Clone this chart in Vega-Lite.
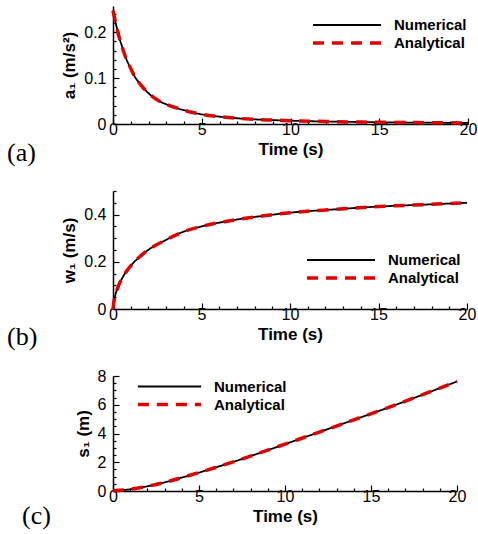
{
  "$schema": "https://vega.github.io/schema/vega-lite/v6.json",
  "background": "white",
  "padding": {"left": 7, "top": 3, "right": 2, "bottom": 2},
  "spacing": 67,
  "bounds": "flush",
  "resolve": {
    "scale": {"color": "independent", "strokeDash": "independent", "strokeWidth": "independent"},
    "legend": {"color": "independent", "strokeDash": "independent", "strokeWidth": "independent"}
  },
  "config": {
    "view": {"stroke": null},
    "font": "Liberation Sans",
    "axis": {
      "grid": false,
      "domainColor": "black",
      "domainWidth": 1.5,
      "tickColor": "black",
      "tickWidth": 1.2,
      "labelFont": "Liberation Sans",
      "labelFontSize": 16,
      "labelColor": "black",
      "labelOverlap": false,
      "labelFlush": false,
      "titleFont": "Liberation Sans",
      "titleFontSize": 17,
      "titleFontWeight": "bold",
      "titleColor": "black"
    },
    "legend": {
      "labelFont": "Liberation Sans",
      "labelFontSize": 15,
      "labelFontWeight": "bold",
      "labelColor": "black",
      "symbolType": "M-5,0H5",
      "symbolSize": 185,
      "labelOffset": 38,
      "rowPadding": 1,
      "orient": "none"
    },
    "title": {
      "orient": "bottom",
      "anchor": "start",
      "frame": "group",
      "font": "Liberation Serif",
      "fontSize": 26,
      "fontWeight": "normal",
      "color": "black"
    }
  },
  "vconcat": [
    {
      "width": 355,
      "height": 118,
      "title": {"text": "(a)", "dx": -106, "offset": -17},
      "data": {"values": [
        {"t": 0, "Numerical": 0.247, "Analytical": 0.247},
        {"t": 0.1, "Numerical": 0.229, "Analytical": 0.229},
        {"t": 0.2, "Numerical": 0.212, "Analytical": 0.212},
        {"t": 0.34, "Numerical": 0.19, "Analytical": 0.19},
        {"t": 0.5, "Numerical": 0.17, "Analytical": 0.17},
        {"t": 0.63, "Numerical": 0.154, "Analytical": 0.154},
        {"t": 0.8, "Numerical": 0.137, "Analytical": 0.137},
        {"t": 1.0, "Numerical": 0.121, "Analytical": 0.121},
        {"t": 1.2, "Numerical": 0.105, "Analytical": 0.105},
        {"t": 1.45, "Numerical": 0.091, "Analytical": 0.091},
        {"t": 1.7, "Numerical": 0.079, "Analytical": 0.079},
        {"t": 2.0, "Numerical": 0.067, "Analytical": 0.067},
        {"t": 2.25, "Numerical": 0.059, "Analytical": 0.059},
        {"t": 2.6, "Numerical": 0.05, "Analytical": 0.05},
        {"t": 3.0, "Numerical": 0.043, "Analytical": 0.043},
        {"t": 3.5, "Numerical": 0.036, "Analytical": 0.036},
        {"t": 4.0, "Numerical": 0.03, "Analytical": 0.03},
        {"t": 4.5, "Numerical": 0.025, "Analytical": 0.025},
        {"t": 5, "Numerical": 0.021, "Analytical": 0.021},
        {"t": 6, "Numerical": 0.016, "Analytical": 0.016},
        {"t": 7, "Numerical": 0.0125, "Analytical": 0.0125},
        {"t": 8, "Numerical": 0.01, "Analytical": 0.01},
        {"t": 9, "Numerical": 0.0085, "Analytical": 0.0085},
        {"t": 10, "Numerical": 0.0072, "Analytical": 0.0072},
        {"t": 12, "Numerical": 0.0054, "Analytical": 0.0054},
        {"t": 14, "Numerical": 0.0042, "Analytical": 0.0042},
        {"t": 16, "Numerical": 0.0034, "Analytical": 0.0034},
        {"t": 18, "Numerical": 0.0028, "Analytical": 0.0028},
        {"t": 20, "Numerical": 0.0023, "Analytical": 0.0023}
      ]},
      "transform": [{"fold": ["Numerical", "Analytical"], "as": ["series", "value"]}],
      "mark": {"type": "line", "interpolate": "monotone"},
      "encoding": {
        "x": {"field": "t", "type": "quantitative", "scale": {"domain": [0, 20], "nice": false},
          "axis": {"title": "Time (s)", "values": [0,1,2,3,4,5,6,7,8,9,10,11,12,13,14,15,16,17,18,19,20],
            "labelExpr": "datum.value % 5 === 0 ? datum.label : ''",
            "tickSize": {"condition": {"test": "datum.value % 5 === 0", "value": -6}, "value": -3},
            "labelPadding": 3, "titlePadding": 1}},
        "y": {"field": "value", "type": "quantitative", "scale": {"domain": [0, 0.257], "nice": false},
          "axis": {"title": "a₁ (m/s²)", "values": [0,0.02,0.04,0.06,0.08,0.1,0.12,0.14,0.16,0.18,0.2,0.22,0.24],
            "labelExpr": "abs(datum.value*10 - round(datum.value*10)) < 0.001 ? format(datum.value, '.1~f') : ''",
            "tickSize": {"condition": {"test": "abs(datum.value*10 - round(datum.value*10)) < 0.001", "value": -6}, "value": -3},
            "labelPadding": 13, "titlePadding": 5}},
        "color": {"field": "series", "type": "nominal", "scale": {"domain": ["Numerical", "Analytical"], "range": ["black", "#e00000"]},
          "legend": {"title": null, "legendX": 225, "legendY": 11}},
        "strokeDash": {"field": "series", "type": "nominal", "scale": {"domain": ["Numerical", "Analytical"], "range": [[1, 0], [11, 8]]},
          "legend": {"title": null, "legendX": 225, "legendY": 11}},
        "strokeWidth": {"field": "series", "type": "nominal", "scale": {"domain": ["Numerical", "Analytical"], "range": [1.8, 3.5]},
          "legend": {"title": null, "legendX": 225, "legendY": 11}}
      }
    },
    {
      "width": 354,
      "height": 118,
      "title": {"text": "(b)", "dx": -106, "offset": -18},
      "data": {"values": [
        {"t": 0, "Numerical": 0, "Analytical": 0},
        {"t": 0.05, "Numerical": 0.03, "Analytical": 0.03},
        {"t": 0.13, "Numerical": 0.058, "Analytical": 0.058},
        {"t": 0.32, "Numerical": 0.1, "Analytical": 0.1},
        {"t": 0.6, "Numerical": 0.141, "Analytical": 0.141},
        {"t": 1.0, "Numerical": 0.183, "Analytical": 0.183},
        {"t": 1.55, "Numerical": 0.224, "Analytical": 0.224},
        {"t": 2.1, "Numerical": 0.256, "Analytical": 0.256},
        {"t": 2.9, "Numerical": 0.289, "Analytical": 0.289},
        {"t": 3.8, "Numerical": 0.322, "Analytical": 0.322},
        {"t": 5, "Numerical": 0.35, "Analytical": 0.35},
        {"t": 6.3, "Numerical": 0.37, "Analytical": 0.37},
        {"t": 7.6, "Numerical": 0.386, "Analytical": 0.386},
        {"t": 8.75, "Numerical": 0.397, "Analytical": 0.397},
        {"t": 10, "Numerical": 0.408, "Analytical": 0.408},
        {"t": 12.5, "Numerical": 0.422, "Analytical": 0.422},
        {"t": 15, "Numerical": 0.434, "Analytical": 0.434},
        {"t": 17.5, "Numerical": 0.442, "Analytical": 0.442},
        {"t": 20, "Numerical": 0.45, "Analytical": 0.45}
      ]},
      "transform": [{"fold": ["Numerical", "Analytical"], "as": ["series", "value"]}],
      "mark": {"type": "line", "interpolate": "monotone"},
      "encoding": {
        "x": {"field": "t", "type": "quantitative", "scale": {"domain": [0, 20], "nice": false},
          "axis": {"title": "Time (s)", "values": [0,1,2,3,4,5,6,7,8,9,10,11,12,13,14,15,16,17,18,19,20],
            "labelExpr": "datum.value % 5 === 0 ? datum.label : ''",
            "tickSize": {"condition": {"test": "datum.value % 5 === 0", "value": -6}, "value": -3},
            "labelPadding": 3, "titlePadding": 1}},
        "y": {"field": "value", "type": "quantitative", "scale": {"domain": [0, 0.5], "nice": false},
          "axis": {"title": "w₁ (m/s)", "values": [0,0.05,0.1,0.15,0.2,0.25,0.3,0.35,0.4,0.45,0.5],
            "labelExpr": "abs(datum.value*5 - round(datum.value*5)) < 0.001 ? format(datum.value, '.1~f') : ''",
            "tickSize": {"condition": {"test": "abs(datum.value*5 - round(datum.value*5)) < 0.001", "value": -6}, "value": -3},
            "labelPadding": 13, "titlePadding": 5}},
        "color": {"field": "series", "type": "nominal", "scale": {"domain": ["Numerical", "Analytical"], "range": ["black", "#e00000"]},
          "legend": {"title": null, "legendX": 219, "legendY": 61}},
        "strokeDash": {"field": "series", "type": "nominal", "scale": {"domain": ["Numerical", "Analytical"], "range": [[1, 0], [11, 8]]},
          "legend": {"title": null, "legendX": 219, "legendY": 61}},
        "strokeWidth": {"field": "series", "type": "nominal", "scale": {"domain": ["Numerical", "Analytical"], "range": [1.8, 3.5]},
          "legend": {"title": null, "legendX": 219, "legendY": 61}}
      }
    },
    {
      "width": 344,
      "height": 115,
      "title": {"text": "(c)", "dx": -91, "offset": -21},
      "data": {"values": [
        {"t": 0, "Numerical": 0.02, "Analytical": 0.02},
        {"t": 1, "Numerical": 0.12, "Analytical": 0.12},
        {"t": 2, "Numerical": 0.33, "Analytical": 0.33},
        {"t": 3, "Numerical": 0.6, "Analytical": 0.6},
        {"t": 4, "Numerical": 0.93, "Analytical": 0.93},
        {"t": 5, "Numerical": 1.28, "Analytical": 1.28},
        {"t": 6, "Numerical": 1.65, "Analytical": 1.65},
        {"t": 7, "Numerical": 2.03, "Analytical": 2.03},
        {"t": 8, "Numerical": 2.43, "Analytical": 2.43},
        {"t": 9, "Numerical": 2.84, "Analytical": 2.84},
        {"t": 10, "Numerical": 3.26, "Analytical": 3.26},
        {"t": 12, "Numerical": 4.1, "Analytical": 4.1},
        {"t": 14, "Numerical": 4.95, "Analytical": 4.95},
        {"t": 16, "Numerical": 5.8, "Analytical": 5.8},
        {"t": 18, "Numerical": 6.7, "Analytical": 6.7},
        {"t": 20, "Numerical": 7.62, "Analytical": 7.62}
      ]},
      "transform": [{"fold": ["Numerical", "Analytical"], "as": ["series", "value"]}],
      "mark": {"type": "line", "interpolate": "monotone"},
      "encoding": {
        "x": {"field": "t", "type": "quantitative", "scale": {"domain": [0, 20], "nice": false},
          "axis": {"title": "Time (s)", "values": [0,1,2,3,4,5,6,7,8,9,10,11,12,13,14,15,16,17,18,19,20],
            "labelExpr": "datum.value % 5 === 0 ? datum.label : ''",
            "tickSize": {"condition": {"test": "datum.value % 5 === 0", "value": -6}, "value": -3},
            "labelPadding": 3, "titlePadding": 1}},
        "y": {"field": "value", "type": "quantitative", "scale": {"domain": [0, 8], "nice": false},
          "axis": {"title": "s₁ (m)", "values": [0,0.5,1,1.5,2,2.5,3,3.5,4,4.5,5,5.5,6,6.5,7,7.5,8],
            "labelExpr": "datum.value % 2 === 0 ? format(datum.value, 'd') : ''",
            "tickSize": {"condition": {"test": "datum.value % 2 === 0", "value": -6}, "value": -3},
            "labelPadding": 13, "titlePadding": 5}},
        "color": {"field": "series", "type": "nominal", "scale": {"domain": ["Numerical", "Analytical"], "range": ["black", "#e00000"]},
          "legend": {"title": null, "legendX": 48, "legendY": 3, "symbolSize": 160, "labelOffset": 36}},
        "strokeDash": {"field": "series", "type": "nominal", "scale": {"domain": ["Numerical", "Analytical"], "range": [[1, 0], [11, 8]]},
          "legend": {"title": null, "legendX": 48, "legendY": 3, "symbolSize": 160, "labelOffset": 36}},
        "strokeWidth": {"field": "series", "type": "nominal", "scale": {"domain": ["Numerical", "Analytical"], "range": [1.8, 3.5]},
          "legend": {"title": null, "legendX": 48, "legendY": 3, "symbolSize": 160, "labelOffset": 36}}
      }
    }
  ]
}
